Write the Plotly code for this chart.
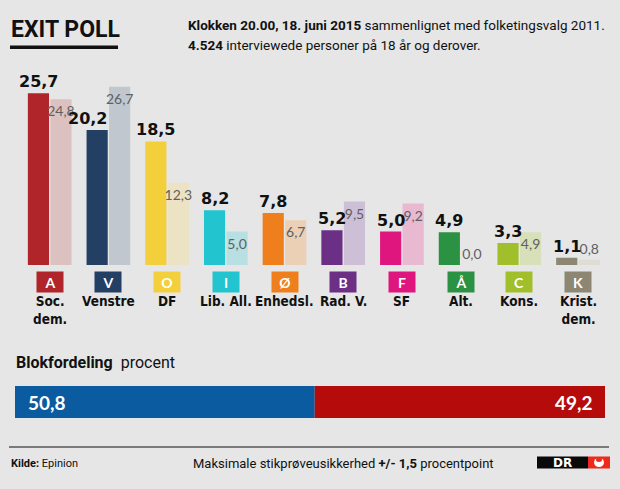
import plotly.graph_objects as go

# Exit poll 2015 vs. folketingsvalg 2011
letters = ["A", "V", "O", "I", "Ø", "B", "F", "Å", "C", "K"]
names = ["Soc.<br>dem.", "Venstre", "DF", "Lib. All.", "Enhedsl.",
         "Rad. V.", "SF", "Alt.", "Kons.", "Krist.<br>dem."]
poll_2015 = [25.7, 20.2, 18.5, 8.2, 7.8, 5.2, 5.0, 4.9, 3.3, 1.1]
valg_2011 = [24.8, 26.7, 12.3, 5.0, 6.7, 9.5, 9.2, 0.0, 4.9, 0.8]
dark_colors = ["#b0252a", "#233f63", "#f4cf3c", "#22c4cf", "#ef7e1c",
               "#6c2f86", "#e0167f", "#2b9143", "#a1bf2a", "#8c8673"]
light_colors = ["#dcc1c1", "#c0c7cf", "#ebe3c3", "#b8dfe2", "#ebd0b6",
                "#cdbfd5", "#e9b8d1", "#e4e4e4", "#d7e0b9", "#dedcd4"]

blok_names = ["blaa", "roed"]
blok_values = [50.8, 49.2]
blok_colors = ["#0b5ba1", "#b50b0b"]

BG = "#e6e6e6"
W, H = 620, 489
NUM_FONT = "Lato"
BIG_FONT = "DejaVu Sans"
TXT_FONT = "Roboto"
NAME_FONT = "DejaVu Sans Condensed"

SLOT_PX = 58.7          # width of one category on the x axis
BAR_OFF = SLOT_PX * (1 - 0.233) / 4   # centre of the 2015 bar left of the tick


def py(px):
    # pixel row from top -> paper fraction
    return 1 - px / H


def px_x(px):
    return px / W


def fmt(v):
    return f"{v:.1f}".replace(".", ",")


fig = go.Figure()

fig.add_trace(go.Bar(
    x=letters, y=poll_2015, name="2015",
    marker=dict(color=dark_colors, line_width=0),
    hoverinfo="skip",
))

light_pos = ["inside" if v >= 3 else "outside" for v in valg_2011]
fig.add_trace(go.Bar(
    x=letters, y=valg_2011, name="2011",
    marker=dict(color=light_colors, line_width=0),
    texttemplate="%{y:.1f}", textposition=light_pos, textangle=0,
    insidetextanchor="end", constraintext="none", cliponaxis=False,
    textfont=dict(family=NUM_FONT, size=14, color="#5f5f5f"),
    hoverinfo="skip",
))

# blokfordeling bar
base = 0
for nm, val, col in zip(blok_names, blok_values, blok_colors):
    fig.add_trace(go.Bar(
        x=[val], y=["blok"], base=[base], orientation="h", name=nm,
        xaxis="x2", yaxis="y2", offsetgroup="blok", width=1,
        marker=dict(color=col, line_width=0),
        hoverinfo="skip",
    ))
    base += val

annotations = []
for let, v15, v11 in zip(letters, poll_2015, valg_2011):
    # wide labels next to a taller 2011 bar are pushed to the left
    right_align = v11 > v15 and v15 >= 10
    annotations.append(dict(
        x=let, xref="x", y=v15, yref="y", text=f"<b>{fmt(v15)}</b>",
        showarrow=False, yanchor="bottom",
        xanchor="right" if right_align else "center",
        xshift=1 if right_align else -BAR_OFF,
        font=dict(family=BIG_FONT, size=16, color="#111111"),
    ))

for let, nm, col in zip(letters, names, dark_colors):
    annotations.append(dict(
        x=let, xref="x", y=py(282), yref="paper", text=f"<b>{let}</b>",
        showarrow=False, bgcolor=col, width=26, height=20, borderpad=0,
        font=dict(family=NUM_FONT, size=14, color="white"),
        xanchor="center", yanchor="middle",
    ))
    annotations.append(dict(
        x=let, xref="x", y=py(291), yref="paper", text=f"<b>{nm}</b>",
        showarrow=False, align="center", xanchor="center", yanchor="top",
        font=dict(family=NAME_FONT, size=13.5, color="#111111"),
    ))

# white numbers inside the blok bar
annotations += [
    dict(x=0, xref="x2", y=0, yref="y2", text=f"<b>{fmt(blok_values[0])}</b>",
         showarrow=False, xanchor="left", yanchor="middle", xshift=11,
         font=dict(family=NUM_FONT, size=19, color="white")),
    dict(x=sum(blok_values), xref="x2", y=0, yref="y2",
         text=f"<b>{fmt(blok_values[1])}</b>",
         showarrow=False, xanchor="right", yanchor="middle", xshift=-10,
         font=dict(family=NUM_FONT, size=19, color="white")),
]

annotations += [
    dict(x=px_x(9), y=py(29), xref="paper", yref="paper", text="<b>EXIT POLL</b>",
         showarrow=False, xanchor="left", yanchor="middle",
         font=dict(family=TXT_FONT, size=23, color="#111111")),
    dict(x=px_x(186), y=py(25), xref="paper", yref="paper",
         text="<b>Klokken 20.00, 18. juni 2015</b> sammenlignet med folketingsvalg 2011.",
         showarrow=False, xanchor="left", yanchor="middle",
         font=dict(family=TXT_FONT, size=13.5, color="#111111")),
    dict(x=px_x(186), y=py(45), xref="paper", yref="paper",
         text="<b>4.524</b> interviewede personer på 18 år og derover.",
         showarrow=False, xanchor="left", yanchor="middle",
         font=dict(family=TXT_FONT, size=13.5, color="#111111")),
    dict(x=px_x(14), y=py(362), xref="paper", yref="paper",
         text="<b>Blokfordeling</b>  procent",
         showarrow=False, xanchor="left", yanchor="middle",
         font=dict(family=TXT_FONT, size=16, color="#111111")),
    dict(x=px_x(9), y=py(463), xref="paper", yref="paper",
         text="<b>Kilde:</b> Epinion",
         showarrow=False, xanchor="left", yanchor="middle",
         font=dict(family=TXT_FONT, size=11, color="#111111")),
    dict(x=px_x(343), y=py(463), xref="paper", yref="paper",
         text="Maksimale stikprøveusikkerhed <b>+/- 1,5</b> procentpoint",
         showarrow=False, xanchor="center", yanchor="middle",
         font=dict(family=TXT_FONT, size=13, color="#111111")),
    dict(x=px_x(562), y=py(462.5), xref="paper", yref="paper",
         text="<b>DR</b>", showarrow=False, xanchor="center", yanchor="middle",
         font=dict(family="DejaVu Sans", size=12, color="white")),
]

shapes = [
    # underline under EXIT POLL
    dict(type="rect", xref="paper", yref="paper", x0=px_x(10), x1=px_x(118),
         y0=py(49), y1=py(45.5), fillcolor="#111111", line_width=0),
    # footer rule
    dict(type="line", xref="paper", yref="paper", x0=px_x(9), x1=px_x(609),
         y0=py(447), y1=py(447), line=dict(color="#7a7a7a", width=2)),
    # DR logo
    dict(type="rect", xref="paper", yref="paper", x0=px_x(537), x1=px_x(588),
         y0=py(468.5), y1=py(456.5), fillcolor="#0a0a0a", line_width=0),
    dict(type="rect", xref="paper", yref="paper", x0=px_x(588), x1=px_x(610),
         y0=py(468.5), y1=py(456.5), fillcolor="#ee2a1c", line_width=0),
    dict(type="circle", xref="paper", yref="paper", x0=px_x(594), x1=px_x(604),
         y0=py(467), y1=py(458), fillcolor="white", line_width=0),
    dict(type="circle", xref="paper", yref="paper", x0=px_x(596), x1=px_x(602),
         y0=py(462), y1=py(457.5), fillcolor="#ee2a1c", line_width=0),
]

fig.update_layout(
    width=W, height=H, autosize=False,
    margin=dict(l=0, r=0, t=0, b=0),
    paper_bgcolor=BG, plot_bgcolor=BG,
    barmode="group", bargap=0.233, bargroupgap=0.06,
    separators=",.",
    showlegend=False,
    annotations=annotations, shapes=shapes,
    xaxis=dict(domain=[px_x(20.35), px_x(607.35)], range=[-0.5, 9.5],
               showgrid=False, zeroline=False, showticklabels=False,
               fixedrange=True),
    yaxis=dict(domain=[py(265), py(75)], range=[0, (265 - 75) / 6.68],
               showgrid=False, zeroline=False, showticklabels=False,
               fixedrange=True),
    xaxis2=dict(domain=[px_x(15), px_x(605)], range=[0, 100], anchor="y2",
                showgrid=False, zeroline=False, showticklabels=False,
                fixedrange=True),
    yaxis2=dict(domain=[py(418), py(386)], range=[-0.5, 0.5], anchor="x2",
                showgrid=False, zeroline=False, showticklabels=False,
                fixedrange=True),
)

fig.write_html(
    "out.html",
    config={"displayModeBar": False},
    post_script="document.body.style.margin='0';document.body.style.overflow='hidden';",
)
